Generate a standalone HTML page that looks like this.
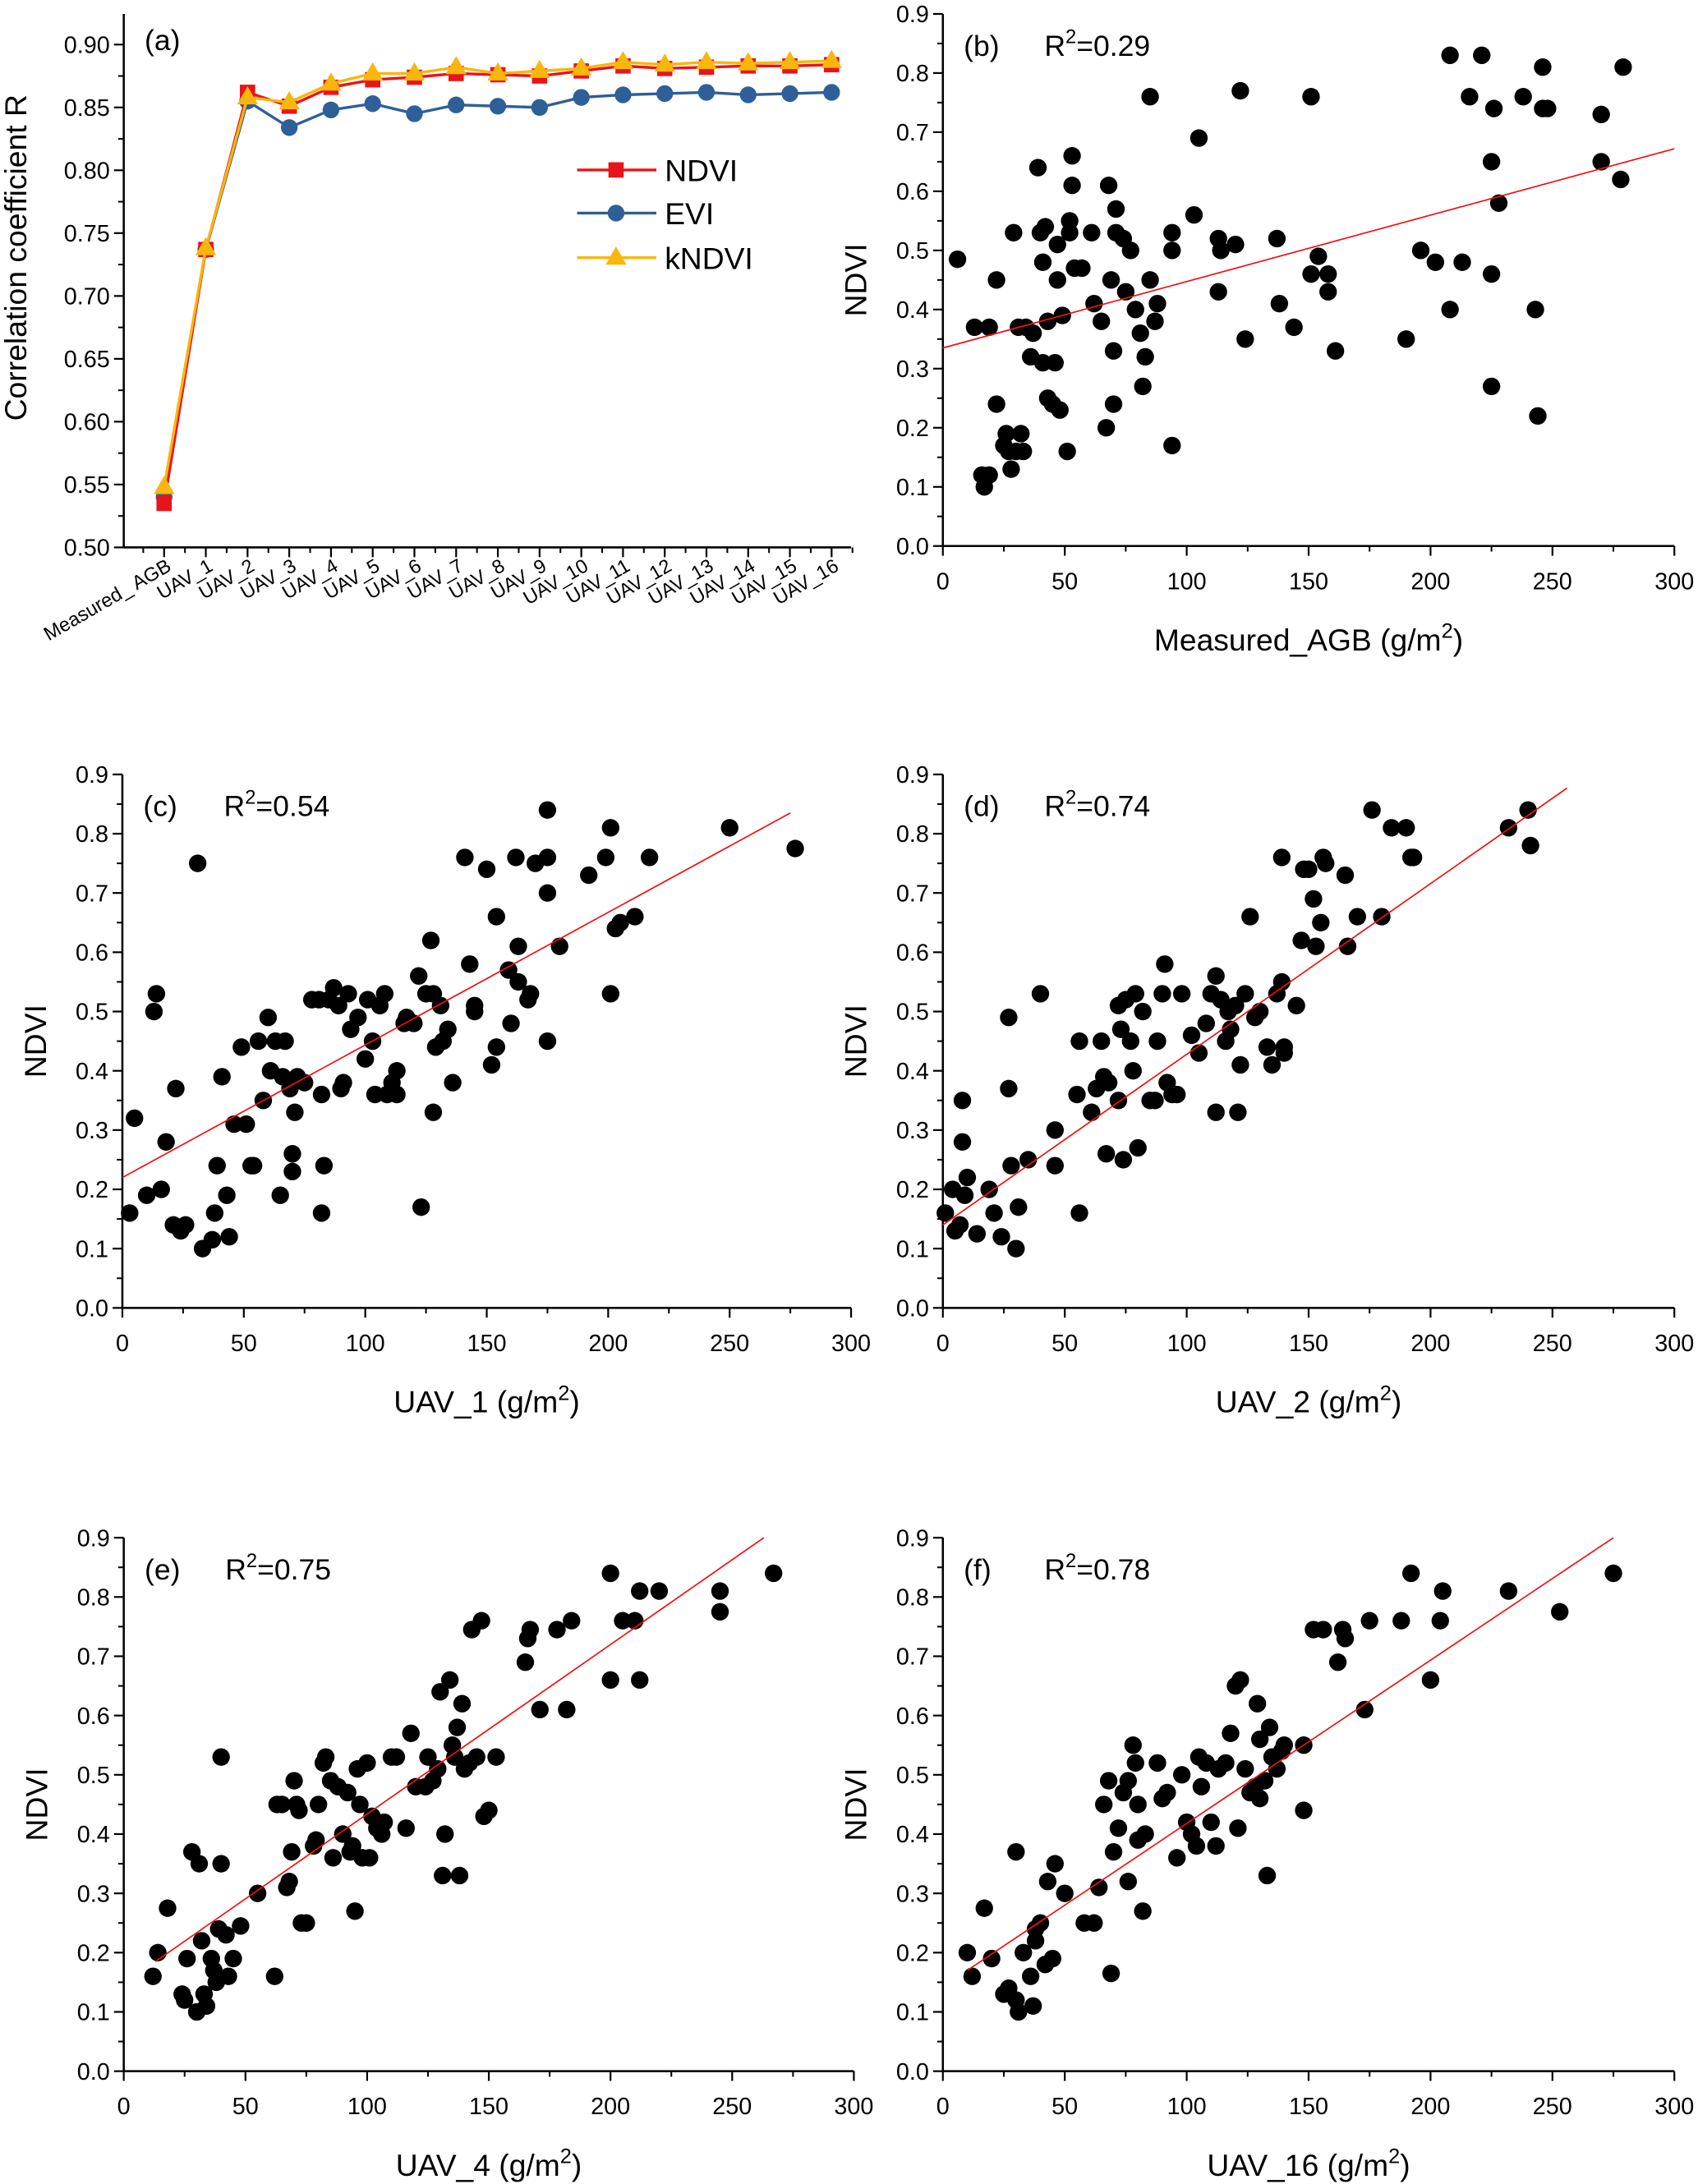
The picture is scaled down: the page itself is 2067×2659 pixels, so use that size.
<!DOCTYPE html>
<html><head><meta charset="utf-8">
<style>
html,body{margin:0;padding:0;background:#fff;}
svg{display:block;font-family:"Liberation Sans",Arial,sans-serif;}
</style></head>
<body>
<svg id="fig" width="2067" height="2659" viewBox="0 0 1221 1568" preserveAspectRatio="none" xmlns="http://www.w3.org/2000/svg"></svg>
<script>
// ---------- Panel (a) data ----------
const aCats = ["Measured_ AGB","UAV_1","UAV_2","UAV_3","UAV_4","UAV_5","UAV_6","UAV_7","UAV_8","UAV_9","UAV_10","UAV_11","UAV_12","UAV_13","UAV_14","UAV_15","UAV_16"];
const aNDVI = [0.535,0.737,0.862,0.851,0.866,0.872,0.874,0.877,0.876,0.875,0.879,0.883,0.881,0.882,0.883,0.883,0.884];
const aEVI = [0.540,0.737,0.855,0.834,0.848,0.853,0.845,0.852,0.851,0.850,0.858,0.860,0.861,0.862,0.860,0.861,0.862];
const aKNDVI = [0.548,0.738,0.858,0.854,0.869,0.877,0.877,0.882,0.877,0.879,0.881,0.886,0.884,0.886,0.885,0.886,0.887];
const aYTicks = ["0.50","0.55","0.60","0.65","0.70","0.75","0.80","0.85","0.90"];

// ---------- Scatter panels data ----------
const xTickLabels = ["0","50","100","150","200","250","300"];
const yTickLabels = ["0.0","0.1","0.2","0.3","0.4","0.5","0.6","0.7","0.8","0.9"];

const bX = [6,13,19,16,17,19,22,22,25,26,27,28,30,29,31,33,32,34,36,37,39,40,41,41,42,43,43,45,46,47,47,48,49,51,52,52,53,53,54,57,61,62,65,67,68,69,70,71,71,70,74,75,77,79,81,82,83,85,85,87,88,94,94,94,103,105,113,113,114,120,122,124,137,138,144,151,151,154,158,158,161,190,196,202,208,208,213,216,221,225,225,225,226,228,238,243,244,246,246,248,270,270,278,279];
const bY = [0.485,0.37,0.37,0.12,0.10,0.12,0.24,0.45,0.17,0.19,0.16,0.13,0.16,0.53,0.37,0.16,0.19,0.37,0.32,0.36,0.64,0.53,0.48,0.31,0.54,0.38,0.25,0.24,0.31,0.51,0.45,0.23,0.39,0.16,0.55,0.53,0.61,0.66,0.47,0.47,0.53,0.41,0.38,0.20,0.61,0.45,0.33,0.53,0.57,0.24,0.52,0.43,0.50,0.40,0.36,0.27,0.32,0.45,0.76,0.38,0.41,0.50,0.53,0.17,0.56,0.69,0.52,0.43,0.50,0.51,0.77,0.35,0.52,0.41,0.37,0.76,0.46,0.49,0.46,0.43,0.33,0.35,0.50,0.48,0.83,0.40,0.48,0.76,0.83,0.27,0.65,0.46,0.74,0.58,0.76,0.40,0.22,0.81,0.74,0.74,0.73,0.65,0.62,0.81];
const bFit = [0.335,0.672];

const cX = [3,5,10,13,14,16,18,21,22,24,26,33,31,37,38,39,41,43,44,46,49,51,53,54,56,58,60,61,63,65,66,67,69,70,70,71,72,75,78,81,82,83,82,85,87,89,90,91,93,94,97,100,101,103,104,106,108,109,111,113,113,116,117,120,122,123,125,127,128,128,129,131,132,134,136,141,143,145,145,150,152,154,154,159,160,162,163,163,167,170,175,175,175,175,168,180,192,199,201,201,203,205,211,217,250,277];
const cY = [0.16,0.32,0.19,0.50,0.53,0.20,0.28,0.14,0.37,0.13,0.14,0.10,0.75,0.115,0.16,0.24,0.39,0.19,0.12,0.31,0.44,0.31,0.24,0.24,0.45,0.35,0.49,0.40,0.45,0.19,0.39,0.45,0.37,0.26,0.23,0.33,0.39,0.38,0.52,0.52,0.36,0.24,0.16,0.52,0.54,0.51,0.37,0.38,0.53,0.47,0.49,0.42,0.52,0.45,0.36,0.51,0.53,0.36,0.38,0.36,0.40,0.48,0.49,0.48,0.56,0.17,0.53,0.62,0.33,0.53,0.44,0.51,0.45,0.47,0.38,0.76,0.58,0.51,0.50,0.74,0.41,0.66,0.44,0.57,0.48,0.76,0.61,0.55,0.52,0.75,0.84,0.70,0.76,0.45,0.53,0.61,0.73,0.76,0.81,0.53,0.64,0.65,0.66,0.76,0.81,0.775];
const cFit = [0.22,0.835,0,275];

const dX = [1,4,5,7,8,8,9,10,14,19,21,24,27,27,28,30,31,35,40,46,46,55,56,56,61,63,65,66,67,68,72,72,73,74,75,77,78,79,80,82,85,87,88,90,91,92,94,96,98,102,105,108,110,112,112,114,116,117,118,120,121,122,124,126,128,130,133,135,137,139,140,140,139,145,147,148,150,152,153,155,156,157,165,166,170,176,180,184,190,192,193,232,240,241];
const dY = [0.16,0.20,0.13,0.14,0.35,0.28,0.19,0.22,0.125,0.20,0.16,0.12,0.37,0.49,0.24,0.10,0.17,0.25,0.53,0.30,0.24,0.36,0.16,0.45,0.33,0.37,0.45,0.39,0.26,0.38,0.35,0.51,0.47,0.25,0.52,0.45,0.40,0.53,0.27,0.50,0.35,0.35,0.45,0.53,0.58,0.38,0.36,0.36,0.53,0.46,0.43,0.48,0.53,0.56,0.33,0.52,0.45,0.50,0.47,0.51,0.33,0.41,0.53,0.66,0.49,0.50,0.44,0.41,0.53,0.55,0.43,0.44,0.76,0.51,0.62,0.74,0.74,0.69,0.61,0.65,0.76,0.75,0.73,0.61,0.66,0.84,0.66,0.81,0.81,0.76,0.76,0.81,0.84,0.78];
const dFit = [0.14,0.877,0,256];

const eX = [12,14,18,24,25,26,28,30,31,32,33,34,36,37,38,39,40,40,42,43,45,48,55,62,63,65,67,68,69,70,71,72,73,75,78,79,80,82,83,85,86,88,90,92,93,94,95,96,97,98,100,101,102,104,106,107,110,112,116,118,120,124,125,127,129,130,131,132,134,135,136,137,138,139,140,142,143,145,147,148,150,153,165,166,167,171,178,182,184,200,200,205,210,212,212,220,245,245,267];
const eY = [0.16,0.20,0.275,0.13,0.12,0.19,0.37,0.10,0.35,0.22,0.13,0.11,0.19,0.17,0.15,0.24,0.35,0.53,0.23,0.16,0.19,0.245,0.30,0.16,0.45,0.45,0.31,0.32,0.37,0.49,0.45,0.44,0.25,0.25,0.38,0.39,0.45,0.52,0.53,0.49,0.36,0.48,0.40,0.47,0.37,0.38,0.27,0.51,0.45,0.36,0.52,0.36,0.43,0.41,0.40,0.42,0.53,0.53,0.41,0.57,0.48,0.48,0.53,0.49,0.51,0.64,0.33,0.40,0.66,0.55,0.53,0.58,0.33,0.62,0.51,0.52,0.745,0.53,0.76,0.43,0.44,0.53,0.69,0.73,0.745,0.61,0.745,0.61,0.76,0.66,0.84,0.76,0.76,0.66,0.81,0.81,0.775,0.81,0.84];
const eFit = [0.185,0.90,13,263];

const fX = [10,12,17,20,25,27,30,30,31,33,36,37,38,38,40,42,43,45,46,50,58,62,64,66,68,69,70,72,74,76,76,78,79,80,80,82,83,88,90,92,96,98,100,102,104,105,106,108,110,112,113,116,118,120,121,122,124,126,128,129,130,130,132,133,134,135,137,139,140,148,148,152,156,162,164,165,173,175,188,192,200,204,205,232,253,275];
const fY = [0.20,0.16,0.275,0.19,0.13,0.14,0.12,0.37,0.10,0.20,0.16,0.11,0.22,0.24,0.25,0.18,0.32,0.19,0.35,0.30,0.25,0.25,0.31,0.45,0.49,0.165,0.37,0.41,0.47,0.32,0.49,0.55,0.52,0.39,0.45,0.27,0.40,0.52,0.46,0.47,0.36,0.50,0.42,0.40,0.38,0.53,0.48,0.52,0.42,0.38,0.51,0.52,0.57,0.65,0.41,0.66,0.51,0.47,0.48,0.62,0.46,0.56,0.49,0.33,0.58,0.53,0.51,0.54,0.55,0.55,0.44,0.745,0.745,0.69,0.745,0.73,0.61,0.76,0.76,0.84,0.66,0.76,0.81,0.81,0.775,0.84];
const fFit = [0.17,0.90,10,275];

const NS = "http://www.w3.org/2000/svg";
const svg = document.getElementById("fig");
function mk(tag, attrs, parent, text) {
  const e = document.createElementNS(NS, tag);
  for (const k in attrs) e.setAttribute(k, attrs[k]);
  if (text !== undefined) e.textContent = text;
  (parent || svg).appendChild(e);
  return e;
}

// ---------- Panel (a) ----------
(function () {
  const g = mk("g", {});
  
  
  const L = 89, B = 393, T = 10, R = 612;
  const yMin = 0.5, yMax = 0.9, yTop = 32;
  const y = v => B - (v - yMin) / (yMax - yMin) * (B - yTop);
  const x = i => 118 + i * 30;
  mk("line", {x1: L, y1: T, x2: L, y2: B, stroke: "#000", "stroke-width": 1.5}, g);
  mk("line", {x1: L, y1: B, x2: R, y2: B, stroke: "#000", "stroke-width": 1.5}, g);
  for (let i = 0; i < aYTicks.length; i++) {
    const v = yMin + i * 0.05, yy = y(v);
    mk("line", {x1: L - 7, y1: yy, x2: L, y2: yy, stroke: "#000", "stroke-width": 1.3}, g);
    if (i < aYTicks.length - 1) {
      const ym = y(v + 0.025);
      mk("line", {x1: L - 4, y1: ym, x2: L, y2: ym, stroke: "#000", "stroke-width": 1.2}, g);
    }
    const t = mk("text", {x: L - 10, y: yy + 6, "text-anchor": "end", "font-size": 17}, g, aYTicks[i]);
    
    
  }
  for (let i = 0; i < aCats.length; i++) {
    const xx = x(i);
    mk("line", {x1: xx, y1: B, x2: xx, y2: B + 7, stroke: "#000", "stroke-width": 1.3}, g);
    mk("line", {x1: xx - 15, y1: B, x2: xx - 15, y2: B + 4, stroke: "#000", "stroke-width": 1.2}, g);
    const t = mk("text", {x: xx + 6, y: B + 16, "text-anchor": "end", "font-size": 14, transform: `rotate(-30 ${xx + 6} ${B + 16})`}, g, aCats[i]);
    
    
  }
  mk("line", {x1: x(16) + 15, y1: B, x2: x(16) + 15, y2: B + 4, stroke: "#000", "stroke-width": 1.2}, g);
  const yt = mk("text", {x: 19, y: 185, "text-anchor": "middle", "font-size": 22, transform: "rotate(-90 19 185)"}, g, "Correlation coefficient R");
  
  
  const lab = mk("text", {x: 104, y: 36, "font-size": 21}, g, "(a)");
  
  

  const series = [
    {vals: aEVI, color: "#2e5f98", shape: "circle", name: "EVI"},
    {vals: aNDVI, color: "#e8141c", shape: "square", name: "NDVI"},
    {vals: aKNDVI, color: "#f9b60c", shape: "tri", name: "kNDVI"}
  ];
  function marker(shape, cx, cy, color, parent) {
    if (shape === "circle") return mk("circle", {cx, cy, r: 6, fill: color}, parent);
    if (shape === "square") return mk("rect", {x: cx - 5.5, y: cy - 5.5, width: 11, height: 11, fill: color}, parent);
    return mk("polygon", {points: `${cx},${cy - 8} ${cx - 7.5},${cy + 5} ${cx + 7.5},${cy + 5}`, fill: color}, parent);
  }
  for (const s of series) {
    const pts = s.vals.map((v, i) => `${x(i)},${y(v)}`).join(" ");
    const pl = mk("polyline", {points: pts, fill: "none", stroke: s.color, "stroke-width": 2}, g);
    
    
    s.vals.forEach((v, i) => {
      const m = marker(s.shape, x(i), y(v), s.color, g);
      
      
    });
  }
  const legend = [
    {shape: "square", color: "#e8141c", name: "NDVI", y: 122},
    {shape: "circle", color: "#2e5f98", name: "EVI", y: 153},
    {shape: "tri", color: "#f9b60c", name: "kNDVI", y: 185}
  ];
  for (const l of legend) {
    const lg = mk("g", {}, g);
    
    
    mk("line", {x1: 415, y1: l.y, x2: 472, y2: l.y, stroke: l.color, "stroke-width": 2}, lg);
    marker(l.shape, 443, l.y, l.color, lg);
    mk("text", {x: 478, y: l.y + 8, "font-size": 22}, lg, l.name);
  }
})();

// ---------- Scatter panels ----------
function scatter(opt) {
  const g = mk("g", {});
  
  
  const {L, R, B, T} = opt;
  const x = v => L + v / 300 * (R - L);
  const y = v => B - v / 0.9 * (B - T);
  mk("line", {x1: L, y1: T, x2: L, y2: B, stroke: "#000", "stroke-width": 1.5}, g);
  mk("line", {x1: L, y1: B, x2: R, y2: B, stroke: "#000", "stroke-width": 1.5}, g);
  for (let i = 0; i < yTickLabels.length; i++) {
    const yy = y(i * 0.1);
    mk("line", {x1: L - 7, y1: yy, x2: L, y2: yy, stroke: "#000", "stroke-width": 1.3}, g);
    if (i < yTickLabels.length - 1) {
      const ym = y(i * 0.1 + 0.05);
      mk("line", {x1: L - 4, y1: ym, x2: L, y2: ym, stroke: "#000", "stroke-width": 1.2}, g);
    }
    const t = mk("text", {x: L - 10, y: yy + 6, "text-anchor": "end", "font-size": 17}, g, yTickLabels[i]);
    
    
  }
  for (let i = 0; i < xTickLabels.length; i++) {
    const xx = x(i * 50);
    mk("line", {x1: xx, y1: B, x2: xx, y2: B + 7, stroke: "#000", "stroke-width": 1.3}, g);
    if (i < xTickLabels.length - 1) {
      const xm = x(i * 50 + 25);
      mk("line", {x1: xm, y1: B, x2: xm, y2: B + 4, stroke: "#000", "stroke-width": 1.2}, g);
    }
    const t = mk("text", {x: xx, y: B + 31, "text-anchor": "middle", "font-size": 17}, g, xTickLabels[i]);
    
    
  }
  const yt = mk("text", {x: L - 55, y: (T + B) / 2, "text-anchor": "middle", "font-size": 22, transform: `rotate(-90 ${L - 55} ${(T + B) / 2})`}, g, "NDVI");
  
  
  const xt = mk("text", {x: (L + R) / 2, y: B + 75, "text-anchor": "middle", "font-size": 22}, g);
  
  
  xt.appendChild(document.createTextNode(opt.xTitle + " (g/m"));
  mk("tspan", {dy: -9, "font-size": 15}, xt, "2");
  mk("tspan", {dy: 9}, xt, ")");
  const lab = mk("text", {x: L + 15, y: T + 30, "font-size": 21}, g, "(" + opt.id + ")");
  
  
  const r2 = mk("text", {x: L + 73, y: T + 30, "font-size": 21}, g);
  
  
  r2.appendChild(document.createTextNode("R"));
  mk("tspan", {dy: -9, "font-size": 14}, r2, "2");
  mk("tspan", {dy: 9}, r2, "=" + opt.r2);
  opt.xs.forEach((v, i) => {
    const c = mk("circle", {cx: x(v), cy: y(opt.ys[i]), r: 6.3, fill: "#000"}, g);
    
    
  });
  const f = opt.fit;
  const x0 = f.length > 2 ? f[2] : 0, x1 = f.length > 2 ? f[3] : 300;
  const fl = mk("line", {x1: x(x0), y1: y(f[0]), x2: x(x1), y2: y(f[1]), stroke: "#f01010", "stroke-width": 1}, g);
  
  
}
scatter({id: "b", L: 678, R: 1204, B: 392, T: 10, xs: bX, ys: bY, fit: bFit, r2: "0.29", xTitle: "Measured_AGB"});
scatter({id: "c", L: 88, R: 612, B: 939, T: 556, xs: cX, ys: cY, fit: cFit, r2: "0.54", xTitle: "UAV_1"});
scatter({id: "d", L: 678, R: 1204, B: 939, T: 556, xs: dX, ys: dY, fit: dFit, r2: "0.74", xTitle: "UAV_2"});
scatter({id: "e", L: 89, R: 614, B: 1487, T: 1104, xs: eX, ys: eY, fit: eFit, r2: "0.75", xTitle: "UAV_4"});
scatter({id: "f", L: 678, R: 1204, B: 1487, T: 1104, xs: fX, ys: fY, fit: fFit, r2: "0.78", xTitle: "UAV_16"});
</script>
</body></html>
